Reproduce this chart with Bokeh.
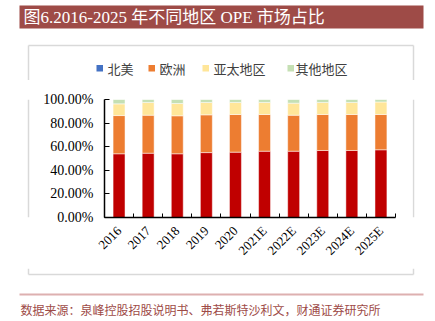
from bokeh.plotting import figure
from bokeh.layouts import column, row
from bokeh.models import ColumnDataSource, Range1d, FixedTicker, PrintfTickFormatter
from bokeh.core.properties import value
from bokeh.embed import file_html
from bokeh.resources import INLINE
import math

# ---- data ----
years = ["2016", "2017", "2018", "2019", "2020", "2021E", "2022E", "2023E", "2024E", "2025E"]
north_america = [54.0, 54.5, 54.0, 55.0, 55.4, 56.2, 56.2, 56.8, 56.8, 57.4]
europe = [32.4, 32.2, 32.2, 32.0, 31.9, 31.1, 30.5, 30.5, 30.5, 29.9]
asia_pacific = [9.9, 10.8, 10.4, 10.5, 10.2, 10.2, 10.2, 10.2, 10.2, 10.6]
others = [3.7, 2.5, 3.4, 2.5, 2.5, 2.5, 3.1, 2.5, 2.5, 2.1]
series_names = ["北美", "欧洲", "亚太地区", "其他地区"]
y_ticks = [0, 20, 40, 60, 80, 100]

title_text = "图6.2016-2025 年不同地区 OPE 市场占比"
source_text = "数据来源：泉峰控股招股说明书、弗若斯特沙利文，财通证券研究所"

# ---- styles ----
bar_colors = ["#C00000", "#ED7D31", "#FFE699", "#C5E0B4"]
legend_colors = ["#4472C4", "#ED7D31", "#FFE699", "#C5E0B4"]
accent = "#9E4B47"
frame_gray = "#D9D9D9"
serif_cjk = value("'Liberation Serif', 'Noto Sans CJK SC', serif")
sans_cjk = value("'Noto Sans CJK SC', sans-serif")

W, H = 435, 321
TOP_H = 80        # canvas y of top band bottom
MID_B = 268       # canvas y of middle band bottom
LEFT_W = 30       # canvas x where main chart figure starts
RIGHT_X = 412     # canvas x where main chart figure ends
FL, FR, FT, FB = 104, 395, 99, 217  # plot frame edges in canvas px
BOX_L, BOX_R, BOX_T, BOX_B = 28, 413, 45, 274

legend_sq_x = [96, 148, 202, 287]
legend_tx_x = [107, 159, 213, 295]


def blank(w, h, x0, x1, y0, y1):
    f = figure(width=w, height=h, output_backend="svg", toolbar_location=None, title=None,
               x_range=Range1d(x0, x1), y_range=Range1d(y1, y0),
               x_axis_location=None, y_axis_location=None, min_border=0)
    f.outline_line_color = None
    f.grid.visible = False
    f.background_fill_color = "white"
    f.border_fill_color = "white"
    return f


# ---- top band: title bar, frame top, legend ----
top = blank(W, TOP_H, 0, W, 0, TOP_H)
top.quad(left=[19], right=[423], top=[5], bottom=[28], fill_color=accent, line_color=None)
top.text(x=[23], y=[17], text=[title_text], text_color="white", text_font=serif_cjk,
         text_font_size="17px", text_baseline="middle", text_align="left")
top.segment(x0=[BOX_L, BOX_L, BOX_R], y0=[BOX_T, BOX_T, BOX_T],
            x1=[BOX_R, BOX_L, BOX_R], y1=[BOX_T, TOP_H, TOP_H],
            line_color=frame_gray, line_width=1.5)
top.quad(left=legend_sq_x, right=[x + 6.5 for x in legend_sq_x], top=[64.5] * 4, bottom=[71] * 4,
         fill_color=legend_colors, line_color=None)
top.text(x=legend_tx_x, y=[68] * 4, text=series_names, text_color="#404040", text_font=sans_cjk,
         text_font_size="13px", text_baseline="middle", text_align="left")

# ---- side strips for the frame border ----
left = blank(LEFT_W, MID_B - TOP_H, 0, LEFT_W, TOP_H, MID_B)
left.segment(x0=[BOX_L], y0=[TOP_H], x1=[BOX_L], y1=[MID_B], line_color=frame_gray, line_width=1.5)
right = blank(W - RIGHT_X, MID_B - TOP_H, RIGHT_X, W, TOP_H, MID_B)
right.segment(x0=[BOX_R], y0=[TOP_H], x1=[BOX_R], y1=[MID_B], line_color=frame_gray, line_width=1.5)

# ---- main chart ----
idx = list(range(len(years)))
src = ColumnDataSource(dict(x=idx, na=north_america, eu=europe, ap=asia_pacific, ot=others))

p = figure(width=RIGHT_X - LEFT_W, height=MID_B - TOP_H, output_backend="svg", toolbar_location=None,
           title=None, x_range=Range1d(-0.5, len(years) - 0.5), y_range=Range1d(0, 100),
           min_border_left=FL - LEFT_W, min_border_right=RIGHT_X - FR,
           min_border_top=FT - TOP_H, min_border_bottom=MID_B - FB)
p.outline_line_color = None
p.grid.visible = False
p.background_fill_color = "white"
p.border_fill_color = "white"

p.vbar_stack(["na", "eu", "ap", "ot"], x="x", width=0.41, color=bar_colors,
             line_color="white", line_width=0.8, line_alpha=0.6, source=src)

xa = p.xaxis[0]
xa.ticker = FixedTicker(ticks=idx, minor_ticks=[i - 0.5 for i in range(len(years) + 1)])
xa.major_label_overrides = {i: y for i, y in enumerate(years)}
xa.major_label_orientation = math.pi / 4
xa.major_tick_in = 0
xa.major_tick_out = 0
xa.minor_tick_in = 4
xa.minor_tick_out = 0
xa.minor_tick_line_color = "black"
xa.axis_line_color = "black"
xa.axis_line_width = 1.5
xa.major_label_text_font = "Liberation Serif"
xa.major_label_text_font_size = "13px"
xa.major_label_text_color = "black"
xa.major_label_standoff = 11

ya = p.yaxis[0]
ya.ticker = FixedTicker(ticks=y_ticks, minor_ticks=[])
ya.formatter = PrintfTickFormatter(format="%.2f%%")
ya.major_tick_in = 5
ya.major_tick_out = 0
ya.major_tick_line_color = "black"
ya.axis_line_color = "black"
ya.axis_line_width = 1.5
ya.major_label_text_font = "Liberation Serif"
ya.major_label_text_font_size = "14px"
ya.major_label_text_color = "black"
ya.major_label_standoff = 11

# ---- bottom band: frame bottom, footer ----
bot = blank(W, H - MID_B, 0, W, MID_B, H)
bot.segment(x0=[BOX_L, BOX_R, BOX_L], y0=[MID_B, MID_B, BOX_B],
            x1=[BOX_L, BOX_R, BOX_R], y1=[BOX_B, BOX_B, BOX_B],
            line_color=frame_gray, line_width=1.5)
bot.segment(x0=[19], y0=[294], x1=[423], y1=[294], line_color="#DDB0B0", line_width=2)
bot.text(x=[20], y=[309], text=[source_text], text_color=accent, text_font=sans_cjk,
         text_font_size="12px", text_baseline="middle", text_align="left")

layout = column(top, row(left, p, right, spacing=0), bot, spacing=0)
open("out.html", "w").write(file_html(layout, INLINE))
